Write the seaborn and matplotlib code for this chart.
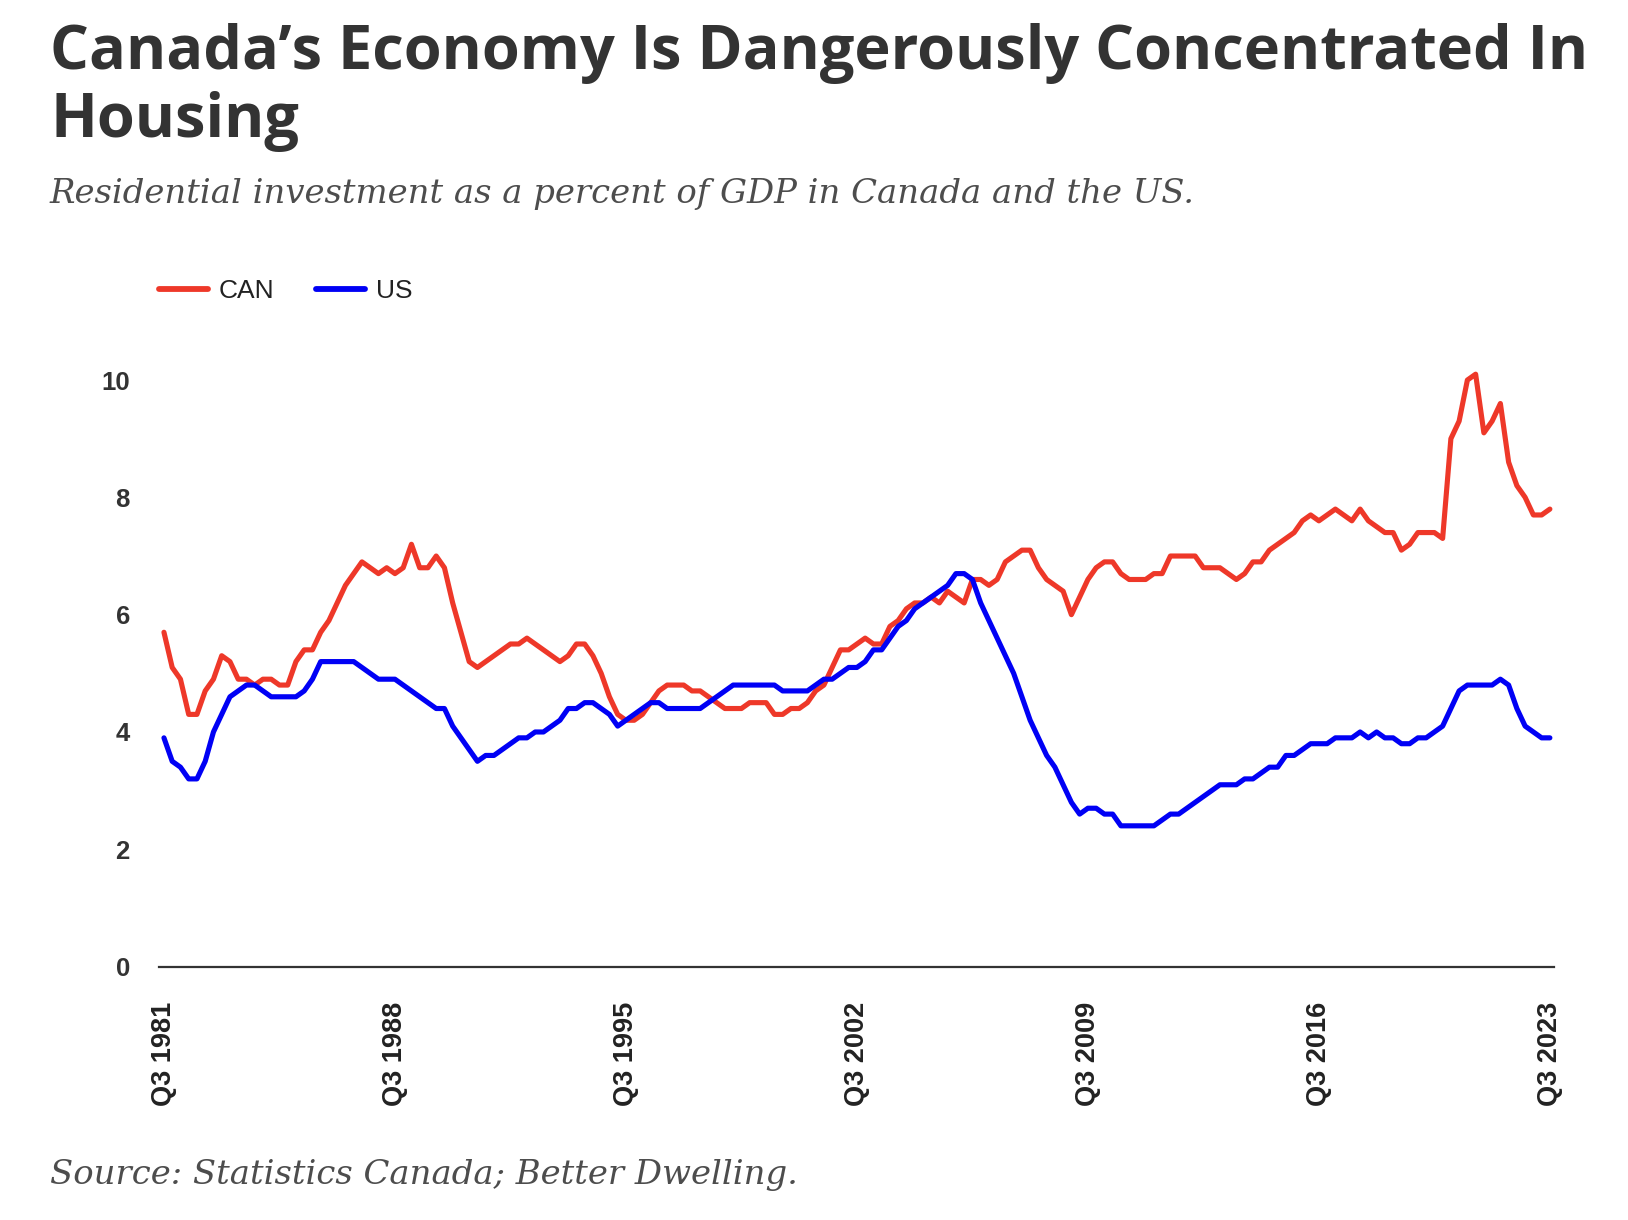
import matplotlib
matplotlib.use("Agg")
import matplotlib.pyplot as plt
import seaborn as sns
import pandas as pd

# ---------------- data (residential investment, % of GDP, quarterly from Q3 1981) -------------
can = [5.7, 5.1, 4.9, 4.3, 4.3, 4.7, 4.9, 5.3, 5.2, 4.9, 4.9, 4.8, 4.9, 4.9, 4.8, 4.8, 5.2, 5.4, 5.4, 5.7, 5.9, 6.2, 6.5, 6.7, 6.9,
       6.8, 6.7, 6.8, 6.7, 6.8, 7.2, 6.8, 6.8, 7.0, 6.8, 6.2, 5.7, 5.2, 5.1, 5.2, 5.3, 5.4, 5.5, 5.5, 5.6, 5.5, 5.4, 5.3, 5.2,
       5.3, 5.5, 5.5, 5.3, 5.0, 4.6, 4.3, 4.2, 4.2, 4.3, 4.5, 4.7, 4.8, 4.8, 4.8, 4.7, 4.7, 4.6, 4.5, 4.4, 4.4, 4.4, 4.5, 4.5,
       4.5, 4.3, 4.3, 4.4, 4.4, 4.5, 4.7, 4.8, 5.1, 5.4, 5.4, 5.5, 5.6, 5.5, 5.5, 5.8, 5.9, 6.1, 6.2, 6.2, 6.3, 6.2, 6.4, 6.3, 6.2,
       6.6, 6.6, 6.5, 6.6, 6.9, 7.0, 7.1, 7.1, 6.8, 6.6, 6.5, 6.4, 6.0, 6.3, 6.6, 6.8, 6.9, 6.9, 6.7, 6.6, 6.6, 6.6, 6.7, 6.7,
       7.0, 7.0, 7.0, 7.0, 6.8, 6.8, 6.8, 6.7, 6.6, 6.7, 6.9, 6.9, 7.1, 7.2, 7.3, 7.4, 7.6, 7.7, 7.6, 7.7, 7.8, 7.7, 7.6, 7.8,
       7.6, 7.5, 7.4, 7.4, 7.1, 7.2, 7.4, 7.4, 7.4, 7.3, 9.0, 9.3, 10.0, 10.1, 9.1, 9.3, 9.6, 8.6, 8.2, 8.0, 7.7, 7.7, 7.8]

us = [3.9, 3.5, 3.4, 3.2, 3.2, 3.5, 4.0, 4.3, 4.6, 4.7, 4.8, 4.8, 4.7, 4.6, 4.6, 4.6, 4.6, 4.7, 4.9, 5.2, 5.2, 5.2, 5.2, 5.2, 5.1,
      5.0, 4.9, 4.9, 4.9, 4.8, 4.7, 4.6, 4.5, 4.4, 4.4, 4.1, 3.9, 3.7, 3.5, 3.6, 3.6, 3.7, 3.8, 3.9, 3.9, 4.0, 4.0, 4.1, 4.2,
      4.4, 4.4, 4.5, 4.5, 4.4, 4.3, 4.1, 4.2, 4.3, 4.4, 4.5, 4.5, 4.4, 4.4, 4.4, 4.4, 4.4, 4.5, 4.6, 4.7, 4.8, 4.8, 4.8, 4.8,
      4.8, 4.8, 4.7, 4.7, 4.7, 4.7, 4.8, 4.9, 4.9, 5.0, 5.1, 5.1, 5.2, 5.4, 5.4, 5.6, 5.8, 5.9, 6.1, 6.2, 6.3, 6.4, 6.5, 6.7, 6.7,
      6.6, 6.2, 5.9, 5.6, 5.3, 5.0, 4.6, 4.2, 3.9, 3.6, 3.4, 3.1, 2.8, 2.6, 2.7, 2.7, 2.6, 2.6, 2.4, 2.4, 2.4, 2.4, 2.4, 2.5,
      2.6, 2.6, 2.7, 2.8, 2.9, 3.0, 3.1, 3.1, 3.1, 3.2, 3.2, 3.3, 3.4, 3.4, 3.6, 3.6, 3.7, 3.8, 3.8, 3.8, 3.9, 3.9, 3.9, 4.0,
      3.9, 4.0, 3.9, 3.9, 3.8, 3.8, 3.9, 3.9, 4.0, 4.1, 4.4, 4.7, 4.8, 4.8, 4.8, 4.8, 4.9, 4.8, 4.4, 4.1, 4.0, 3.9, 3.9]

series_names = ["CAN", "US"]
quarters = [f"Q{(2 + i) % 4 + 1} {1981 + (2 + i) // 4}" for i in range(len(can))]
tick_labels = ["Q3 1981", "Q3 1988", "Q3 1995", "Q3 2002", "Q3 2009", "Q3 2016", "Q3 2023"]
y_ticks = [0, 2, 4, 6, 8, 10]

title_lines = ["Canada\u2019s Economy Is Dangerously Concentrated In", "Housing"]
subtitle = "Residential investment as a percent of GDP in Canada and the US."
source = "Source: Statistics Canada; Better Dwelling."

# ---------------- figure ----------------
W, H = 1628, 1220
sns.set_style("white")
plt.rcParams["font.family"] = ["Liberation Sans", "DejaVu Sans"]

n = len(can)
df = pd.DataFrame({
    "t": list(range(n)) * 2,
    "value": can + us,
    "series": [series_names[0]] * n + [series_names[1]] * n,
})

fig = plt.figure(figsize=(W / 100, H / 100), dpi=100)
ax = fig.add_axes([159 / W, 1 - 966.6 / H, 1395 / W, 645.2 / H])

palette = {"CAN": "#EE3829", "US": "#0000F5"}
sns.lineplot(data=df, x="t", y="value", hue="series", palette=palette,
             linewidth=3.7, ax=ax, legend=True)

ax.set_xlim(-0.6, 168.5)
ax.set_ylim(0, 11)
ax.set_xlabel("")
ax.set_ylabel("")

tick_pos = [quarters.index(lbl) for lbl in tick_labels]
ax.set_xticks(tick_pos)
ax.set_xticklabels(tick_labels, rotation=90, fontsize=19.5, fontweight="bold", color="#222222")
ax.set_yticks(y_ticks)
ax.set_yticklabels([str(v) for v in y_ticks], fontsize=18.5, fontweight="bold", color="#333333")
ax.tick_params(axis="x", length=0, pad=25)
ax.tick_params(axis="y", length=0, pad=21)

for s in ["top", "right", "left"]:
    ax.spines[s].set_visible(False)
ax.spines["bottom"].set_color("#333333")
ax.spines["bottom"].set_linewidth(1.6)
ax.grid(False)

handles, labels = ax.get_legend_handles_labels()
for h in handles:
    h.set_linewidth(4.2)
ax.legend(handles, labels, loc="center left", bbox_to_anchor=(159 / W, 1 - 291 / H),
          bbox_transform=fig.transFigure, ncol=2, frameon=False, fontsize=19,
          handlelength=1.85, handletextpad=0.4, columnspacing=1.6, borderpad=0,
          borderaxespad=0, labelcolor="#222222")

# ---------------- texts fitted to the reference widths ----------------
renderer = fig.canvas.get_renderer()


def fitted_text(x_px, y_px, s, target_w, fs, **kw):
    t = fig.text(x_px / W, 1 - y_px / H, s, fontsize=fs, va="baseline", ha="left", **kw)
    for _ in range(3):
        w = t.get_window_extent(renderer).width
        fs = fs * target_w / w
        t.set_fontsize(fs)
    return t, fs


t1, fs_title = fitted_text(50, 69, title_lines[0], 1539, 40,
                           family=["Open Sans", "DejaVu Sans"], fontweight="bold", color="#333333")
fig.text(50 / W, 1 - 137 / H, title_lines[1], fontsize=fs_title, va="baseline", ha="left",
         family=["Open Sans", "DejaVu Sans"], fontweight="bold", color="#333333")

fitted_text(50, 203, subtitle, 1146, 24, family=["DejaVu Serif"], style="italic", color="#4d4d4d")
fitted_text(50, 1184, source, 746, 24, family=["DejaVu Serif"], style="italic", color="#4d4d4d")

fig.savefig("out.png", dpi=100)
